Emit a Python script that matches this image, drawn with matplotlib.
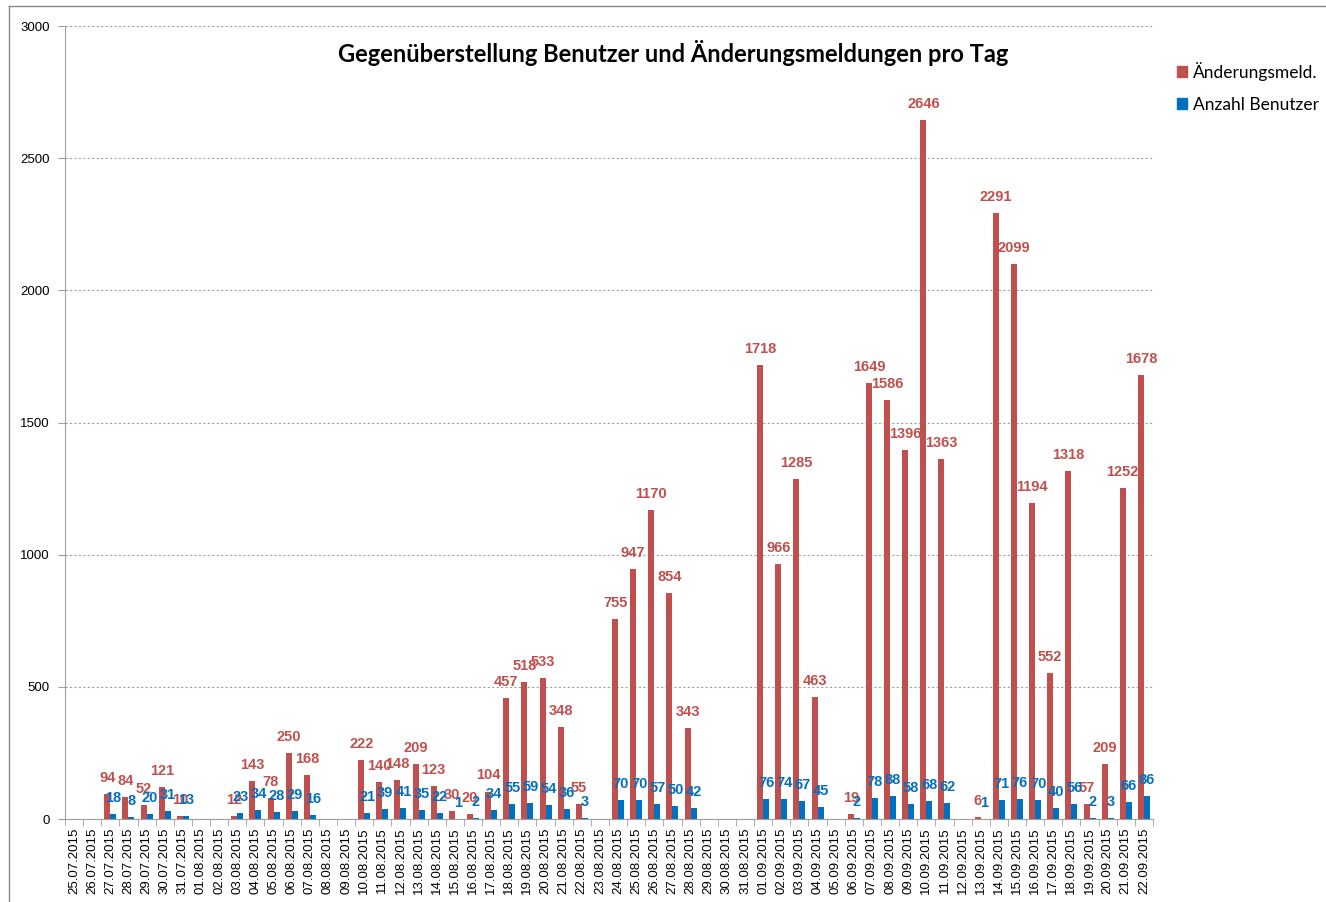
import matplotlib
matplotlib.use("Agg")
import matplotlib.pyplot as plt
import numpy as np
from matplotlib.patches import Patch
from matplotlib.lines import Line2D

dates = ["25.07.2015","26.07.2015","27.07.2015","28.07.2015","29.07.2015","30.07.2015","31.07.2015",
         "01.08.2015","02.08.2015","03.08.2015","04.08.2015","05.08.2015","06.08.2015","07.08.2015",
         "08.08.2015","09.08.2015","10.08.2015","11.08.2015","12.08.2015","13.08.2015","14.08.2015",
         "15.08.2015","16.08.2015","17.08.2015","18.08.2015","19.08.2015","20.08.2015","21.08.2015",
         "22.08.2015","23.08.2015","24.08.2015","25.08.2015","26.08.2015","27.08.2015","28.08.2015",
         "29.08.2015","30.08.2015","31.08.2015","01.09.2015","02.09.2015","03.09.2015","04.09.2015",
         "05.09.2015","06.09.2015","07.09.2015","08.09.2015","09.09.2015","10.09.2015","11.09.2015",
         "12.09.2015","13.09.2015","14.09.2015","15.09.2015","16.09.2015","17.09.2015","18.09.2015",
         "19.09.2015","20.09.2015","21.09.2015","22.09.2015"]

nan = None
aenderungen = [nan, nan, 94, 84, 52, 121, 10,
               nan, nan, 12, 143, 78, 250, 168,
               nan, nan, 222, 140, 148, 209, 123,
               30, 20, 104, 457, 518, 533, 348,
               55, nan, 755, 947, 1170, 854, 343,
               nan, nan, nan, 1718, 966, 1285, 463,
               nan, 19, 1649, 1586, 1396, 2646, 1363,
               nan, 6, 2291, 2099, 1194, 552, 1318,
               57, 209, 1252, 1678]
benutzer = [nan, nan, 18, 8, 20, 31, 13,
            nan, nan, 23, 34, 28, 29, 16,
            nan, nan, 21, 39, 41, 35, 22,
            1, 2, 34, 55, 59, 54, 36,
            3, nan, 70, 70, 57, 50, 42,
            nan, nan, nan, 76, 74, 67, 45,
            nan, 2, 78, 88, 58, 68, 62,
            nan, 1, 71, 76, 70, 40, 56,
            2, 3, 66, 86]

series_names = ["Änderungsmeld.", "Anzahl Benutzer"]
title = "Gegenüberstellung Benutzer und Änderungsmeldungen pro Tag"
red = "#C0504D"
blue = "#0070C0"

W, H = 1326, 902
fig = plt.figure(figsize=(W/100, H/100), dpi=100)
ax = fig.add_axes([65/W, 1-819/H, (1153-65)/W, (819-26)/H])

x = np.arange(len(dates))
bw = 0.33
a = np.array([np.nan if v is None else v for v in aenderungen], dtype=float)
b = np.array([np.nan if v is None else v for v in benutzer], dtype=float)
ax.bar(x - bw/2, np.nan_to_num(a), width=bw, color=red, zorder=3)
ax.bar(x + bw/2, np.nan_to_num(b), width=bw, color=blue, zorder=3)

for i in range(len(x)):
    if not np.isnan(a[i]):
        ax.annotate(f"{int(a[i])}", (x[i] - bw/2, a[i]), xytext=(0, 6.5), textcoords="offset points",
                    ha="center", va="bottom", color=red, fontsize=10.5, fontweight="bold",
                    family="Liberation Sans", zorder=5)
    if not np.isnan(b[i]):
        ax.annotate(f"{int(b[i])}", (x[i] + bw/2, b[i]), xytext=(0, 6.5), textcoords="offset points",
                    ha="center", va="bottom", color=blue, fontsize=10.5, fontweight="bold",
                    family="Liberation Sans", zorder=6)

ax.set_xlim(-0.5, len(dates) - 0.5)
ax.set_ylim(0, 3000)
ax.set_yticks(np.arange(0, 3001, 500))
ax.yaxis.grid(True, linestyle=(0, (2, 2)), color="#A0A0A0", linewidth=0.8, zorder=0)
ax.set_xticks(x)
ax.set_xticklabels(dates, rotation=90, fontsize=9.5, family="Liberation Sans")
ax.tick_params(axis="x", length=0, pad=6)
ax.set_xticks(np.arange(-0.5, len(dates), 1), minor=True)
ax.tick_params(axis="x", which="minor", length=5, color="#A0A0A0", direction="out")
ax.tick_params(axis="y", length=5, color="#A0A0A0", labelsize=9.5, pad=6)
for lbl in ax.get_yticklabels():
    lbl.set_family("Liberation Sans")
for s in ["top", "right"]:
    ax.spines[s].set_visible(False)
for s in ["left", "bottom"]:
    ax.spines[s].set_color("#A0A0A0")

fig.text(673/W, 1-53/H, title, ha="center", va="center", fontsize=17, fontweight="bold",
         family="Lato")

handles = [Patch(color=red), Patch(color=blue)]
fig.legend(handles, series_names, loc="upper left", bbox_to_anchor=(1161/W, 1-46/H),
           frameon=False, prop={"family": "Lato", "size": 12.5},
           handlelength=0.6, handleheight=0.6, handletextpad=0.35, labelspacing=0.95)

fig.add_artist(Line2D([8.5/W, 8.5/W], [0, 1-5.5/H], transform=fig.transFigure,
                      color="#888888", linewidth=1))
fig.add_artist(Line2D([8.5/W, 1], [1-5.5/H, 1-5.5/H], transform=fig.transFigure,
                      color="#888888", linewidth=1))

fig.savefig("out.png", dpi=100)
